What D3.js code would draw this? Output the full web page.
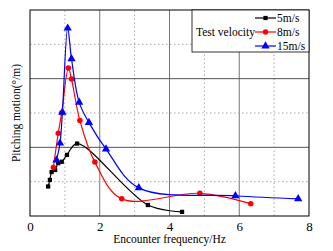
<!DOCTYPE html>
<html>
<head>
<meta charset="utf-8">
<script src="https://cdn.jsdelivr.net/npm/d3@7"></script>
<style>
  body { margin: 0; background: #fff; }
  text { font-family: "Liberation Serif", "DejaVu Serif", serif; fill: #000; }
</style>
</head>
<body>
<div id="chart"></div>
<script>
// Chart dimensions
const width = 333;
const height = 251;
const margin = {top: 10, right: 24, bottom: 35, left: 30};

// Data: [frequency Hz, pitching motion]
const v5 = [[0.52, 0.86], [0.57, 1.05], [0.62, 1.28], [0.72, 1.34], [0.81, 1.54],
    [0.91, 1.58], [1.06, 1.78], [1.35, 2.11], [3.38, 0.32], [4.36, 0.12]];
const v8 = [[0.67, 1.41], [0.81, 2.41], [0.91, 3.01], [1.10, 4.31], [1.19, 3.99],
    [1.43, 2.78], [1.86, 1.57], [2.63, 0.50], [4.87, 0.66], [6.33, 0.36]];
const v15 = [[0.76, 1.63], [0.86, 2.12], [0.93, 3.02], [1.08, 5.47], [1.19, 4.58],
    [1.41, 3.31], [1.69, 2.72], [2.18, 1.95], [3.12, 0.82], [5.89, 0.59], [7.69, 0.50]];

const seriesNames = ["5m/s", "8m/s", "15m/s"];
const seriesColors = ["#000000", "#ff0000", "#0000ff"];
const seriesShapes = [d3.symbolSquare, d3.symbolCircle, d3.symbolTriangle];
const seriesSizes = [18, 24, 30];
const xTicks = [0, 2, 4, 6, 8];

const series = [v5, v8, v15];

const svg = d3.select("#chart")
    .append("svg")
    .attr("width", width)
    .attr("height", height);

const x = d3.scaleLinear()
    .domain([0, 8])
    .range([margin.left, width - margin.right]);

const y = d3.scaleLinear()
    .domain([0, 6])
    .range([height - margin.bottom, margin.top]);

// Grid lines
const grid = svg.append("g");
d3.range(1, 8).forEach(v => {
    grid.append("line")
        .attr("x1", x(v)).attr("x2", x(v))
        .attr("y1", y(0)).attr("y2", y(6))
        .attr("stroke", v % 2 === 0 ? "#777" : "#aaa")
        .attr("stroke-width", 1)
        .attr("stroke-dasharray", v % 2 === 0 ? null : "1.5,2.5");
});
d3.range(1, 6).forEach(v => {
    grid.append("line")
        .attr("x1", x(0)).attr("x2", x(8))
        .attr("y1", y(v)).attr("y2", y(v))
        .attr("stroke", v % 2 === 0 ? "#555" : "#aaa")
        .attr("stroke-width", 1)
        .attr("stroke-dasharray", v % 2 === 0 ? null : "1.5,2.5");
});

// Frame
svg.append("rect")
    .attr("x", x(0)).attr("y", y(6))
    .attr("width", x(8) - x(0)).attr("height", y(0) - y(6))
    .attr("fill", "none")
    .attr("stroke", "#000")
    .attr("stroke-width", 1);

// X axis
const xAxis = d3.axisBottom(x)
    .tickValues(xTicks)
    .tickSize(0)
    .tickPadding(6);
const xAxisG = svg.append("g")
    .attr("transform", `translate(0,${y(0)})`)
    .call(xAxis);
xAxisG.select(".domain").remove();
xAxisG.selectAll("text")
    .style("font-family", "Liberation Serif")
    .style("font-size", "13px");

svg.append("text")
    .attr("x", (x(0) + x(8)) / 2)
    .attr("y", height - 8)
    .attr("text-anchor", "middle")
    .style("font-size", "11.5px")
    .text("Encounter frequency/Hz");

svg.append("text")
    .attr("transform", `translate(20,${(y(0) + y(6)) / 2}) rotate(-90)`)
    .attr("text-anchor", "middle")
    .style("font-size", "11.5px")
    .text("Pitching motion(°/m)");

// Curves
const line = d3.line()
    .x(d => x(d[0]))
    .y(d => y(d[1]))
    .curve(d3.curveCatmullRom.alpha(0.5));

series.forEach((s, i) => {
    svg.append("path")
        .datum(s)
        .attr("fill", "none")
        .attr("stroke", seriesColors[i])
        .attr("stroke-width", 1.2)
        .attr("d", line);
    svg.append("g")
        .selectAll("path")
        .data(s)
        .join("path")
        .attr("transform", d => `translate(${x(d[0])},${y(d[1])})`)
        .attr("d", d3.symbol().type(seriesShapes[i]).size(seriesSizes[i]))
        .attr("fill", seriesColors[i]);
});

// Legend
const lg = svg.append("g");
lg.append("rect")
    .attr("x", 192).attr("y", y(6))
    .attr("width", x(8) - 192).attr("height", 42)
    .attr("fill", "#fff")
    .attr("stroke", "#000")
    .attr("stroke-width", 0.8);
lg.append("text")
    .attr("x", 196).attr("y", 36)
    .style("font-size", "11.5px")
    .text("Test velocity");
seriesNames.forEach((name, i) => {
    const ly = 18 + i * 14;
    lg.append("line")
        .attr("x1", 255).attr("x2", 276)
        .attr("y1", ly).attr("y2", ly)
        .attr("stroke", seriesColors[i])
        .attr("stroke-width", 1.2);
    lg.append("path")
        .attr("transform", `translate(265.5,${ly})`)
        .attr("d", d3.symbol().type(seriesShapes[i]).size(seriesSizes[i]))
        .attr("fill", seriesColors[i]);
    lg.append("text")
        .attr("x", 277).attr("y", ly + 4)
        .style("font-size", "11.5px")
        .text(name);
});
</script>
</body>
</html>
